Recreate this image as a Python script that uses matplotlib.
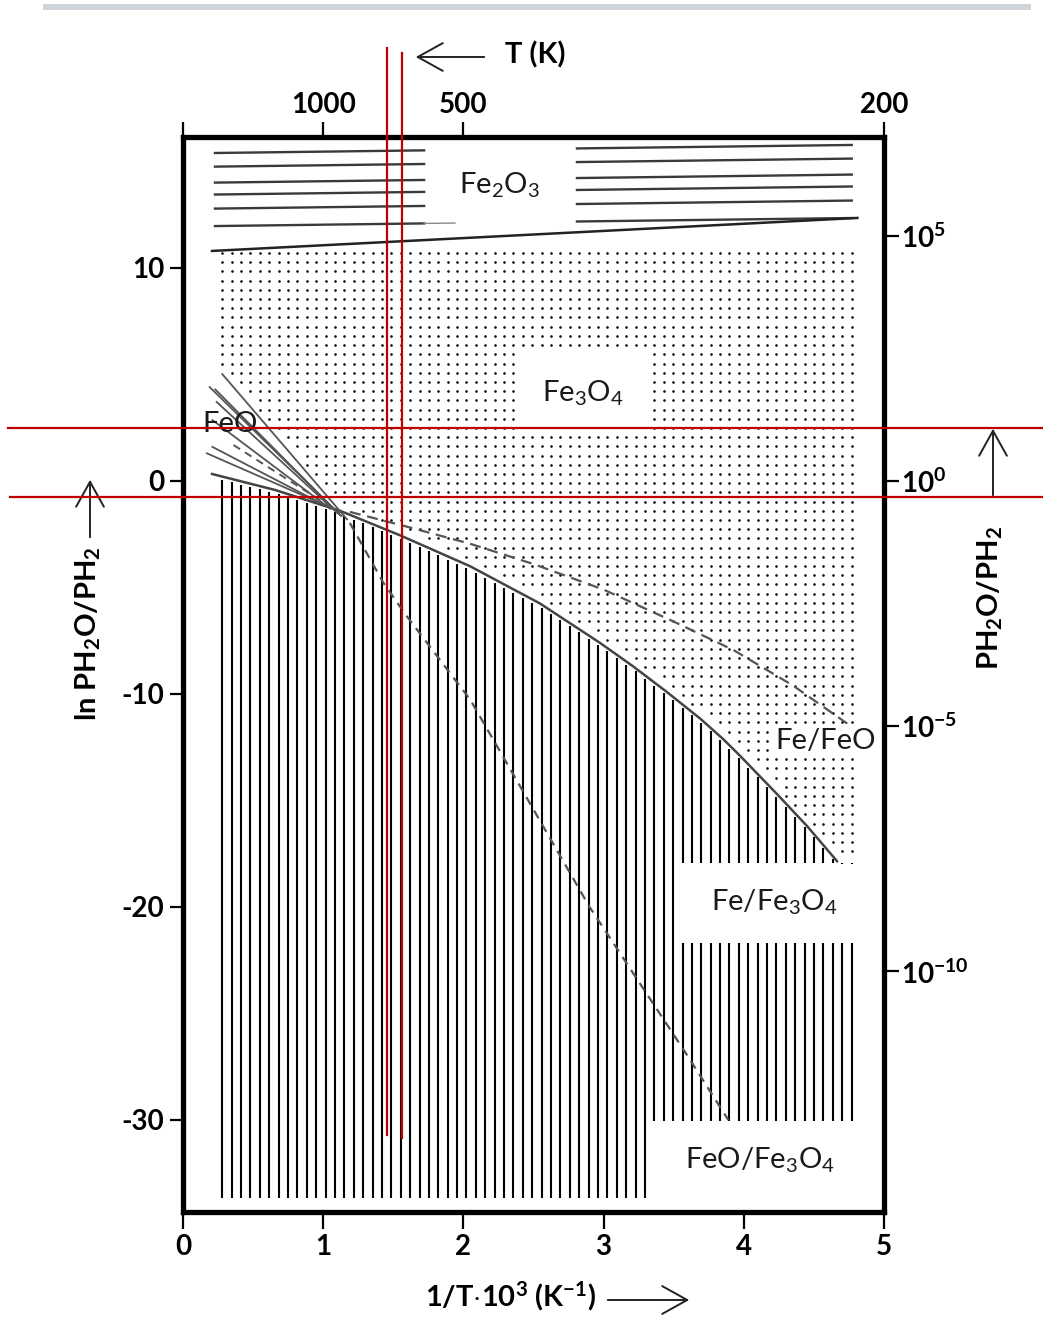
import numpy as np
import matplotlib
matplotlib.use("Agg")
import matplotlib.pyplot as plt
from matplotlib.lines import Line2D
from matplotlib.patches import Rectangle, FancyArrowPatch
from matplotlib.transforms import Affine2D

plt.rcParams['font.family'] = ['Lato', 'DejaVu Sans']
plt.rcParams['axes.unicode_minus'] = False
plt.rcParams['mathtext.fontset'] = 'custom'
plt.rcParams['mathtext.rm'] = 'Lato'
plt.rcParams['mathtext.it'] = 'Lato:italic'
plt.rcParams['mathtext.bf'] = 'Lato:bold'

W, H = 1043, 1329

# ---- data (x = 1000/T, y = ln PH2O/PH2) ----
# Fe / Fe3O4 boundary (solid curve)
sol_x = [0.207, 0.656, 1.120, 1.548, 2.047, 2.546, 2.974, 3.210, 3.450, 3.688, 3.850, 3.973, 4.237, 4.451, 4.665]
sol_y = [0.33, -0.42, -1.40, -2.55, -4.00, -5.75, -7.60, -8.70, -9.90, -11.15, -12.10, -12.90, -14.70, -16.20, -17.85]

# metastable Fe / FeO extension (upper dashed curve)
fefeo_x = [1.19, 1.60, 2.05, 2.50, 3.00, 3.50, 3.93, 4.35, 4.74]
fefeo_y = [-1.45, -2.15, -2.95, -3.90, -5.10, -6.60, -7.95, -9.60, -11.40]

# metastable FeO / Fe3O4 extension (steep dashed curve)
feofe3_x = [1.19, 1.43, 1.60, 2.05, 2.90, 3.58, 3.89]
feofe3_y = [-1.97, -4.79, -6.38, -10.28, -20.0, -26.8, -30.0]

# Fe3O4 / Fe2O3 boundary
hem_x = [0.207, 4.81]
hem_y = [10.80, 12.35]

# FeO field: bundle of lines (start -> end)
feo_x0 = [0.28, 0.19, 0.23, 0.24, 0.21, 0.21, 0.17]
feo_y0 = [5.02, 4.41, 4.30, 3.71, 2.86, 1.60, 1.30]
feo_x1 = [1.17, 1.13, 1.12, 1.10, 1.05, 1.00, 0.95]
feo_y1 = [-1.80, -1.65, -1.60, -1.50, -1.30, -1.10, -0.95]
feo_dash_x = [0.36, 1.12]
feo_dash_y = [1.69, -1.50]

# Fe2O3 field: horizontal hatch levels at x = 0 and their slope
hem_levels = [15.38, 14.74, 13.99, 13.43, 12.77, 11.95]
hem_slope = 0.083
hem_left_span = [0.228, 1.72]
hem_right_span = [2.81, 4.77]

# vertical hatch (Fe field) block limits
fe_x_start, fe_x_end = 0.28, 4.77
fe_step_a, fe_step_b = 3.31, 3.52
fe_bottom_a, fe_bottom_b = -33.65, -30.05
fe_gap_lo, fe_gap_hi = -21.70, -17.93

# dotted Fe3O4 field limits
dot_top, dot_bottom = 10.7, -17.7

yticks_left = [10, 0, -10, -20, -30]
yticks_right = [np.log(1e5), np.log(1e0), np.log(1e-5), np.log(1e-10)]
yticks_right_exp = ['5', '0', '-5', '-10']
T_ticks = [1000, 500, 200]

fig = plt.figure(figsize=(W / 100, H / 100), dpi=100)
ax = fig.add_axes([183 / W, 1 - 1212 / H, (884 - 183) / W, (1212 - 137) / H])
ax.set_xlim(0, 5)
ax.set_ylim(-34.32, 16.15)

# Fe field: vertical hatching under the solid curve
hx = np.arange(fe_x_start, fe_x_end + 0.01, 0.067)
htop = np.interp(hx, sol_x, sol_y)
vx, vlo, vhi = [], [], []
for x, t in zip(hx, htop):
    if x < fe_step_a:
        lo = fe_bottom_a
    elif x < fe_step_b:
        lo = fe_bottom_b
    else:
        vx.append(x); vlo.append(fe_bottom_b); vhi.append(fe_gap_lo)
        lo = fe_gap_hi
    if t > lo:
        vx.append(x); vlo.append(lo); vhi.append(t - 0.15)
ax.vlines(vx, vlo, vhi, color='black', lw=1.5, zorder=2)

# Fe3O4 field: dot pattern
gx, gy = np.meshgrid(np.arange(fe_x_start, fe_x_end + 0.01, 0.067),
                     np.arange(dot_top, dot_bottom, -0.432))
lower = np.maximum(np.interp(gx, [feo_x0[0], feo_x1[0]], [feo_y0[0], feo_y1[0]], right=-99),
                   np.interp(gx, sol_x, sol_y))
keep = gy > lower + 0.35
ax.scatter(gx[keep], gy[keep], s=3.4, color='black', linewidths=0, zorder=2)

# Fe2O3 field: horizontal hatching
for lev in hem_levels:
    for span in (hem_left_span, hem_right_span):
        xs = np.array(span)
        ax.plot(xs, lev + hem_slope * xs, color='#3a3a3a', lw=1.7, zorder=3)
ax.plot([hem_left_span[1], 1.94], [hem_levels[-1] + hem_slope * 1.72, hem_levels[-1] + hem_slope * 1.94],
        color='#888888', lw=1.0, zorder=3)
ax.plot(hem_x, hem_y, color='#222222', lw=1.8, zorder=3)

# boundaries
ax.plot(sol_x, sol_y, color='#444444', lw=1.8, zorder=4)
ax.plot(fefeo_x, fefeo_y, color='#555555', lw=1.6, ls=(0, (5, 3)), zorder=4)
ax.plot(feofe3_x, feofe3_y, color='#555555', lw=1.6, ls=(0, (4, 3)), zorder=4)
for x0, y0, x1, y1 in zip(feo_x0, feo_y0, feo_x1, feo_y1):
    ax.plot([x0, x1], [y0, y1], color='#555555', lw=1.3, zorder=4)
ax.plot(feo_dash_x, feo_dash_y, color='#555555', lw=1.4, ls=(0, (4, 3)), zorder=4)

# field labels
lab = dict(fontsize=21, color='#1a1a1a', ha='center', va='center', zorder=6)
ax.text(2.254, 13.9, r'Fe$_\mathrm{2}$O$_\mathrm{3}$', **lab)
ax.text(2.853, 4.13, r'Fe$_\mathrm{3}$O$_\mathrm{4}$',
        bbox=dict(boxstyle='square,pad=0.95', fc='white', ec='none'), **lab)
ax.text(0.335, 2.68, 'FeO', **lab)
ax.text(4.586, -12.2, 'Fe/FeO', bbox=dict(boxstyle='square,pad=0.12', fc='white', ec='none'), **lab)
ax.text(4.215, -19.77, r'Fe/Fe$_\mathrm{3}$O$_\mathrm{4}$', **lab)
ax.text(4.116, -31.88, r'FeO/Fe$_\mathrm{3}$O$_\mathrm{4}$', **lab)

# frame and ticks
for sp in ax.spines.values():
    sp.set_linewidth(3.8)
    sp.set_zorder(8)
ax.set_xticks(range(6))
ax.set_xticklabels([str(i) for i in range(6)])
ax.set_yticks(yticks_left)
ax.set_yticklabels([str(v) for v in yticks_left])
ax.tick_params(axis='x', direction='out', length=12, width=1.6, pad=4, labelsize=20)
ax.tick_params(axis='y', direction='out', length=9.5, width=1.6, pad=4, labelsize=20)
for t in ax.get_xticklabels() + ax.get_yticklabels():
    t.set_fontweight('bold')

ax_top = ax.twiny()
ax_top.set_xlim(ax.get_xlim())
ax_top.set_xticks([0] + [1000 / T for T in T_ticks])
ax_top.set_xticklabels([''] + [str(T) for T in T_ticks])
ax_top.tick_params(axis='x', direction='out', length=11, width=1.6, pad=3, labelsize=20)
ax_right = ax.twinx()
ax_right.set_ylim(ax.get_ylim())
ax_right.set_yticks(yticks_right)
ax_right.set_yticklabels([r'$\mathbf{10^{%s}}$' % e for e in yticks_right_exp])
ax_right.tick_params(axis='y', direction='out', length=11, width=1.6, pad=1, labelsize=20)
for a in (ax_top, ax_right):
    for sp in a.spines.values():
        sp.set_visible(False)
    for t in a.get_xticklabels() + a.get_yticklabels():
        t.set_fontweight('bold')

# outer labels and arrows (figure pixels)
px = Affine2D().scale(1, -1).translate(0, H)
txt = dict(fontsize=21, fontweight='bold', ha='center', va='center')
fig.text(88 / W, 1 - 634 / H, r'ln PH$_\mathbf{2}$O/PH$_\mathbf{2}$', rotation=90, **txt)
fig.text(990 / W, 1 - 598 / H, r'PH$_\mathbf{2}$O/PH$_\mathbf{2}$', rotation=90, **txt)
fig.text(511 / W, 1 - 1296 / H, r'1/T$\mathbf{\cdot}$10$^\mathbf{3}$ (K$^\mathbf{-1}$)', **txt)
fig.text(535 / W, 1 - 55 / H, 'T (K)', **txt)

arrow_kw = dict(transform=px, arrowstyle='->,head_length=18,head_width=10', mutation_scale=1,
                lw=1.4, color='#222222')
for a, b in [((487, 57), (413, 57)), ((605, 1300), (692, 1300)),
             ((90, 540), (90, 477)), ((993, 498), (993, 426))]:
    fig.add_artist(FancyArrowPatch(a, b, **arrow_kw))

# page decorations
fig.add_artist(Rectangle((43, 4), 988, 6, transform=px, color='#cfd4da', lw=0))
red = dict(transform=px, color='#c00000', lw=1.6, zorder=20)
fig.add_artist(Line2D([387, 387], [48, 1135], **red))
fig.add_artist(Line2D([402, 402], [53, 1138], **red))
fig.add_artist(Line2D([8, 1043], [428, 428], **red))
fig.add_artist(Line2D([10, 1043], [497, 497], **red))

fig.savefig('out.png', dpi=100)
